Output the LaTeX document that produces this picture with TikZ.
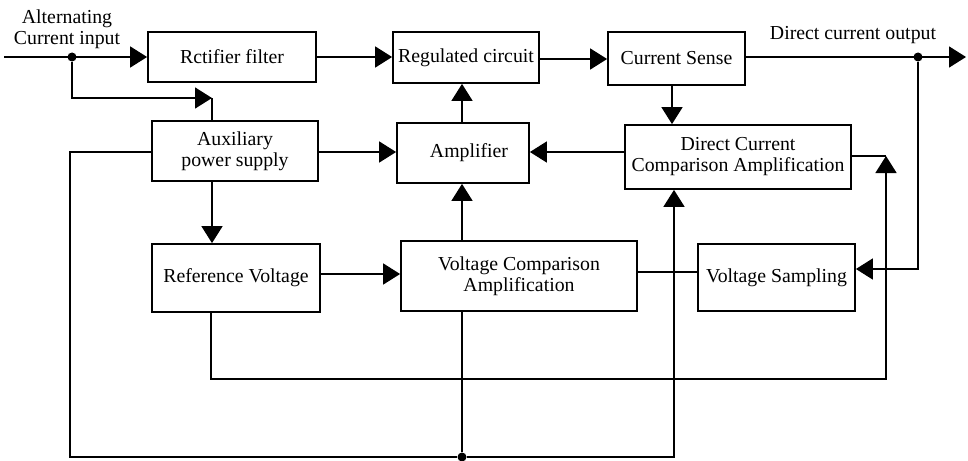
\documentclass[tikz,border=0pt]{standalone}
\usepackage{fontspec}
\setmainfont{Liberation Serif}
\usetikzlibrary{arrows.meta,calc}

\tikzset{
  blk/.style={draw, line width=1.8pt, rectangle, inner sep=0pt, align=center,
    font=\fontsize{19.8}{21}\selectfont},
  wire/.style={line width=1.6pt},
  flow/.style={wire, -{Triangle[length=17pt,width=21pt]}},
  joint/.style={circle, fill, inner sep=0pt, minimum size=9pt},
  lbl/.style={align=center, font=\fontsize{19.8}{21}\selectfont}
}

\begin{document}
\begin{tikzpicture}[x=1pt,y=-1pt]
  \useasboundingbox (0,0) rectangle (968,460);

  % blocks
  \node[blk, minimum width=168pt, minimum height=50pt] (rect) at (232,57) {Rctifier filter};
  \node[blk, minimum width=166pt, minimum height=60pt] (aux)  at (235,151) {Auxiliary\\power supply};
  \node[blk, minimum width=146pt, minimum height=51pt] (reg)  at (466,57.5) {Regulated circuit};
  \node[blk, minimum width=132pt, minimum height=60pt] (amp)  at (463,153) {\hspace*{12pt}Amplifier};
  \node[blk, minimum width=137pt, minimum height=53pt] (cs)   at (676.5,58.5) {Current Sense};
  \node[blk, minimum width=226pt, minimum height=64pt] (dcc)  at (738,157) {Direct Current\\Comparison Amplification};
  \node[blk, minimum width=168pt, minimum height=68pt] (ref)  at (236,278) {Reference Voltage};
  \node[blk, minimum width=236pt, minimum height=70pt] (vca)  at (519,276) {Voltage Comparison\\Amplification};
  \node[blk, minimum width=157pt, minimum height=67pt] (vs)   at (776.5,277.5) {Voltage Sampling};

  % labels
  \node[lbl] (inlbl)  at (67,29) {Alternating\\Current input};
  \node[lbl] (outlbl) at (853,35) {Direct current output};

  % junction points and bends
  \coordinate (acin)   at (4,57);
  \node[joint] (acdot) at (72,57) {};
  \coordinate (auxtap) at (212,98);
  \coordinate (outend) at (966,57);
  \node[joint] (outdot) at (918,57) {};
  \node[joint] (botdot) at (462,457) {};
  \coordinate (auxl)   at (70,152);
  \coordinate (bl)     at (70,457);
  \coordinate (br)     at (674,457);
  \coordinate (refd)   at (211,379);
  \coordinate (rr)     at (886,379);
  \coordinate (rtop)   at (886,156);

  % main power path
  \draw[flow] (acin) -- (rect.west);
  \draw[flow] (rect.east) -- (reg.west |- rect.east);
  \draw[flow] (reg.east |- 0,59) -- (cs.west |- 0,59);
  \draw[flow] (cs.east |- outdot) -- (outend);

  % auxiliary supply feed
  \draw[flow] (acdot) |- (auxtap);
  \draw[wire] (auxtap) -- (auxtap |- aux.north);
  \draw[flow] (aux.south -| auxtap) -- (auxtap |- ref.north);
  \draw[flow] (aux.east |- 0,152) -- (amp.west |- 0,152);

  % control loop
  \draw[flow] (amp.north -| botdot) -- (reg.south -| botdot);
  \draw[flow] (cs.south -| 672,0) -- (dcc.north -| 672,0);
  \draw[flow] (dcc.west |- 0,152) -- (amp.east |- 0,152);
  \draw[flow] (vca.north -| botdot) -- (amp.south -| botdot);
  \draw[flow] (ref.east |- 0,274) -- (vca.west |- 0,274);
  \draw[wire] (vca.east |- 0,272) -- (vs.west |- 0,272);
  \draw[flow] (outdot) |- (vs.east |- 0,269);

  % auxiliary supply distribution
  \draw[wire] (aux.west |- auxl) -- (auxl) -- (bl) -- (botdot);
  \draw[flow] (botdot) -- (br) -- (dcc.south -| br);
  \draw[wire] (botdot) -- (vca.south -| botdot);

  % reference to current comparison
  \draw[flow] (ref.south -| refd) -- (refd) -- (rr) -- (rtop);
  \draw[wire] (dcc.east |- rtop) -- (rtop);
\end{tikzpicture}
\end{document}
